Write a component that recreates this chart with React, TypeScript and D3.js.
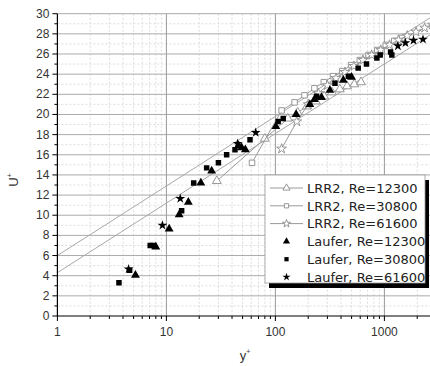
import React from "react";
import * as d3 from "d3";

// Wall-unit velocity profiles: y+ against U+
const yTicks = [0, 2, 4, 6, 8, 10, 12, 14, 16, 18, 20, 22, 24, 26, 28, 30];
const xTicks = [1, 10, 100, 1000];

// Straight log-law reference lines (endpoints in y+, U+)
const logLawUpper: [number, number][] = [[1, 6.0], [3000, 30.0]];
const logLawLower: [number, number][] = [[1, 4.3], [3000, 28.3]];

// LRR2 model profiles
const lrr2Re12300: [number, number][] = [
  [29, 13.4], [80, 17.6], [130, 19.6], [160, 20.2], [195, 20.8], [235, 21.3],
  [280, 21.8], [330, 22.2], [390, 22.5], [455, 22.8], [530, 23.0], [610, 23.2],
];
const lrr2Re30800: [number, number][] = [
  [61, 15.2], [114, 20.4], [150, 21.2], [185, 21.9], [228, 22.6], [278, 23.2],
  [338, 23.8], [410, 24.3], [495, 24.9], [595, 25.4], [715, 25.9], [860, 26.4],
  [1030, 26.9], [1230, 27.3], [1450, 27.6],
];
const lrr2Re61600: [number, number][] = [
  [114, 16.6], [157, 19.3], [200, 21.0], [248, 22.1], [300, 22.9], [360, 23.6],
  [435, 24.2], [525, 24.8], [635, 25.4], [765, 25.9], [925, 26.4], [1115, 26.9],
  [1345, 27.4], [1620, 27.8], [1950, 28.2], [2340, 28.6], [2750, 28.9],
];

// Laufer measurements
const lauferRe12300: [number, number][] = [
  [5.2, 4.05], [8.0, 6.85], [10.6, 8.65], [13.1, 10.05], [15.9, 11.3], [20.7, 13.2],
  [26, 14.4], [46, 16.9], [49, 16.7], [53, 16.5], [101, 18.8], [155, 20.0],
  [207, 21.0], [228, 21.5], [265, 21.7], [316, 22.4], [420, 23.4], [500, 23.7],
];
const lauferRe30800: [number, number][] = [
  [3.67, 3.3], [4.6, 4.55], [7.1, 7.0], [7.6, 7.0], [13.8, 10.45], [17.8, 13.2],
  [23.4, 14.7], [30, 15.2], [35.7, 16.0], [42.6, 16.5], [58.5, 17.5], [106, 19.3],
  [118, 19.6], [239, 21.8], [352, 23.1], [467, 23.8], [575, 24.6], [685, 25.0],
  [853, 25.6], [915, 25.9], [1140, 26.2], [1170, 25.9],
];
const lauferRe61600: [number, number][] = [
  [4.5, 4.65], [9.2, 9.0], [13.4, 11.65], [45, 17.1], [66, 18.2],
  [1330, 26.8], [1560, 27.1], [1850, 27.35], [2260, 27.45],
];

const legendLabels = [
  "LRR2, Re=12300", "LRR2, Re=30800", "LRR2, Re=61600",
  "Laufer, Re=12300", "Laufer, Re=30800", "Laufer, Re=61600",
];

const W = 430;
const H = 366;
const x = d3.scaleLog().domain([1, 3000]).range([57.4, 436.4]);
const y = d3.scaleLinear().domain([0, 30]).range([316, 13.7]);
const left = 57.4;
const right = 436.4;
const top = y(30);
const bottom = y(0);

const tri = d3.symbol().type(d3.symbolTriangle).size(34)()!;
const sq = d3.symbol().type(d3.symbolSquare).size(30)()!;
const star = d3.symbol().type(d3.symbolStar).size(30)()!;
const triSmall = d3.symbol().type(d3.symbolTriangle).size(22)()!;
const sqSmall = d3.symbol().type(d3.symbolSquare).size(18)()!;
const starSmall = d3.symbol().type(d3.symbolStar).size(20)()!;

const line = d3
  .line<[number, number]>()
  .x((d) => x(d[0]))
  .y((d) => y(d[1]));

const minorX: number[] = [];
for (let dec = 1; dec < 3000; dec *= 10) {
  for (let k = 2; k <= 9; k++) if (dec * k <= 3000) minorX.push(dec * k);
}
const minorY = d3.range(1, 30, 2);

const FONT = "'Liberation Sans', Arial, sans-serif";
const LFONT = "'DejaVu Sans', sans-serif";

type Series = {
  data: [number, number][];
  path: string;
  legendPath: string;
  open: boolean;
};

const modelSeries: Series[] = [
  { data: lrr2Re12300, path: tri, legendPath: triSmall, open: true },
  { data: lrr2Re30800, path: sq, legendPath: sqSmall, open: true },
  { data: lrr2Re61600, path: star, legendPath: starSmall, open: true },
];
const expSeries: Series[] = [
  { data: lauferRe12300, path: tri, legendPath: triSmall, open: false },
  { data: lauferRe30800, path: sq, legendPath: sqSmall, open: false },
  { data: lauferRe61600, path: star, legendPath: starSmall, open: false },
];

export default function App() {
  const legX = 265;
  const legY = 175;
  const legW = 160;
  const legH = 108;
  const rowY = (i: number) => 188 + i * 17.8;

  return (
    <svg
      width={W}
      height={H}
      style={{ position: "absolute", left: 0, top: 0, background: "#fff" }}
    >
      <defs>
        <clipPath id="plotArea">
          <rect x={left} y={top - 4} width={right - left} height={bottom - top + 4} />
        </clipPath>
      </defs>
      <rect width={W} height={H} fill="#fff" />

      {/* grid */}
      <g>
        {minorY.map((v) => (
          <line key={"my" + v} x1={left} x2={right} y1={y(v)} y2={y(v)}
            stroke="#d4d4d4" strokeWidth={0.8} strokeDasharray="2,2" />
        ))}
        {minorX.map((v) => (
          <line key={"mx" + v} x1={x(v)} x2={x(v)} y1={top} y2={bottom}
            stroke="#d4d4d4" strokeWidth={0.8} strokeDasharray="2,2" />
        ))}
        {yTicks.filter((v) => v > 0).map((v) => (
          <line key={"gy" + v} x1={left} x2={right} y1={y(v)} y2={y(v)}
            stroke="#ababab" strokeWidth={1} />
        ))}
        {xTicks.filter((v) => v > 1).map((v) => (
          <line key={"gx" + v} x1={x(v)} x2={x(v)} y1={top} y2={bottom}
            stroke="#9a9a9a" strokeWidth={1} />
        ))}
      </g>

      <g clipPath="url(#plotArea)">
        {/* log-law lines */}
        <path d={line(logLawUpper)!} fill="none" stroke="#a8a8a8" strokeWidth={1} />
        <path d={line(logLawLower)!} fill="none" stroke="#a8a8a8" strokeWidth={1} />

        {/* model curves */}
        {modelSeries.map((s, i) => (
          <g key={"m" + i}>
            <path d={line(s.data)!} fill="none" stroke="#9a9a9a" strokeWidth={1} />
            {s.data.map((d, j) => (
              <path key={j} d={s.path} transform={`translate(${x(d[0])},${y(d[1])})`}
                fill="#fff" stroke="#8c8c8c" strokeWidth={0.9} />
            ))}
          </g>
        ))}

        {/* measurements */}
        {expSeries.map((s, i) => (
          <g key={"e" + i}>
            {s.data.map((d, j) => (
              <path key={j} d={s.path} transform={`translate(${x(d[0])},${y(d[1])})`}
                fill="#000" />
            ))}
          </g>
        ))}
      </g>

      {/* axes */}
      <g>
        <line x1={left} x2={left} y1={top} y2={bottom} stroke="#000" strokeWidth={1.2} />
        <line x1={left} x2={right} y1={bottom} y2={bottom} stroke="#000" strokeWidth={1.2} />
        {yTicks.map((v) => (
          <g key={"yt" + v}>
            <line x1={left - 5} x2={left} y1={y(v)} y2={y(v)} stroke="#000" strokeWidth={1} />
            <text x={left - 8} y={y(v) + 4} textAnchor="end" fontFamily={FONT}
              fontSize={12} fill="#333">{v}</text>
          </g>
        ))}
        {minorY.map((v) => (
          <line key={"ymt" + v} x1={left - 3} x2={left} y1={y(v)} y2={y(v)}
            stroke="#000" strokeWidth={1} />
        ))}
        {xTicks.map((v) => (
          <g key={"xt" + v}>
            <line x1={x(v)} x2={x(v)} y1={bottom} y2={bottom + 5} stroke="#000" strokeWidth={1} />
            <text x={x(v)} y={bottom + 20} textAnchor="middle" fontFamily={FONT}
              fontSize={12} fill="#333">{v}</text>
          </g>
        ))}
        {minorX.map((v) => (
          <line key={"xmt" + v} x1={x(v)} x2={x(v)} y1={bottom} y2={bottom + 3}
            stroke="#000" strokeWidth={1} />
        ))}
      </g>

      {/* axis titles */}
      <text x={245} y={360} textAnchor="middle" fontFamily={FONT} fontSize={13} fill="#333">
        y<tspan dy={-6} fontSize={7}>+</tspan>
      </text>
      <text transform="translate(18,180) rotate(-90)" textAnchor="middle" fontFamily={FONT}
        fontSize={13} fill="#333">
        U<tspan dy={-6} fontSize={7}>+</tspan>
      </text>

      {/* legend */}
      <g>
        <rect x={legX + 4} y={legY + 5} width={legW} height={legH} fill="#000" />
        <rect x={legX} y={legY} width={legW} height={legH} fill="#fff" stroke="#999" strokeWidth={0.8} />
        {legendLabels.map((lab, i) => {
          const cy = rowY(i);
          const isModel = i < 3;
          const s = isModel ? modelSeries[i] : expSeries[i - 3];
          return (
            <g key={lab}>
              {isModel && (
                <line x1={270} x2={303} y1={cy} y2={cy} stroke="#9a9a9a" strokeWidth={1} />
              )}
              <path d={s.legendPath} transform={`translate(286.5,${cy})`}
                fill={isModel ? "#fff" : "#000"} stroke={isModel ? "#8c8c8c" : "none"}
                strokeWidth={0.9} />
              <text x={307} y={cy + 4.7} fontFamily={LFONT} fontSize={13} fill="#222">
                {lab}
              </text>
            </g>
          );
        })}
      </g>
    </svg>
  );
}
